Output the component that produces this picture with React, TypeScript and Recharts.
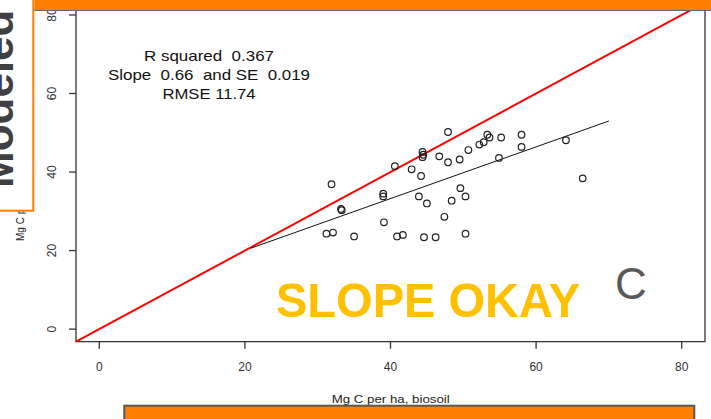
import React from "react";
import {
  ScatterChart,
  Scatter,
  XAxis,
  YAxis,
  ReferenceLine,
  ReferenceArea,
} from "recharts";

// biosoil (x) vs modelled (y), Mg C per ha
const biosoil = [
  31.9, 31.2, 32.1, 33.2, 33.3, 35.0, 39.0, 39.0, 39.1, 40.6,
  40.9, 41.7, 42.9, 43.9, 44.2, 44.4, 44.4, 44.5, 45.0, 44.6,
  46.2, 46.7, 47.4, 47.9, 47.9, 48.4, 49.5, 49.6, 50.3, 50.3,
  50.7, 52.2, 52.8, 53.3, 53.6, 55.2, 54.9, 58.0, 58.0, 64.1,
  66.4,
];
const modelled = [
  36.9, 24.3, 24.6, 30.6, 30.3, 23.6, 34.5, 33.8, 27.2, 41.5,
  23.6, 24.0, 40.7, 33.8, 39.0, 45.1, 43.8, 44.4, 32.0, 23.4,
  23.4, 44.0, 28.6, 50.2, 42.5, 32.7, 43.2, 35.9, 33.8, 24.3,
  45.6, 47.0, 47.6, 49.5, 48.8, 48.8, 43.6, 49.5, 46.4, 48.1,
  38.4,
];

const fitX = [20.8, 70.0];
const fitY = [20.6, 53.0];

const axisRange = [-3.2, 83.2];
const axisTicks = [0, 20, 40, 60, 80];

const statLines = ["R squared  0.367", "Slope  0.66  and SE  0.019", "RMSE 11.74"];

const points = biosoil.map((x, i) => ({ x, y: modelled[i] }));
const fitLine = fitX.map((x, i) => ({ x, y: fitY[i] }));

const FONT = "'Liberation Sans', Arial, sans-serif";
const ORANGE = "#FF8000";

// measured widths of the stats block lines
const statWidths = [130, 202, 93];

const OpenCircle = (props: any) => (
  <circle cx={props.cx} cy={props.cy} r={3.3} fill="none" stroke="#222" strokeWidth={1.2} />
);

const YTick = (props: any) => (
  <text
    x={52}
    y={props.y}
    transform={`rotate(-90, 52, ${props.y})`}
    textAnchor="middle"
    dominantBaseline="central"
    fontSize={12}
    fontFamily={FONT}
    fill="#333"
  >
    {props.payload.value}
  </text>
);

const XTick = (props: any) => (
  <text x={props.x} y={371} textAnchor="middle" fontSize={12} fontFamily={FONT} fill="#333">
    {props.payload.value}
  </text>
);

export default function App() {
  return (
    <div style={{ position: "absolute", left: 0, top: 0, width: 711, height: 419, overflow: "hidden", background: "#fff" }}>
      <ScatterChart width={711} height={419} margin={{ top: 2.4, right: 6, bottom: 0, left: 0 }}>
        <XAxis
          dataKey="x"
          type="number"
          domain={axisRange}
          ticks={axisTicks}
          allowDataOverflow
          axisLine={false}
          tickSize={7}
          tickLine={{ stroke: "#333", strokeWidth: 1.3 }}
          tick={<XTick />}
          height={77.3}
        />
        <YAxis
          dataKey="y"
          type="number"
          domain={axisRange}
          ticks={axisTicks}
          allowDataOverflow
          axisLine={false}
          tickSize={7}
          tickLine={{ stroke: "#333", strokeWidth: 1.3 }}
          tick={<YTick />}
          width={76}
        />
        <ReferenceArea
          x1={axisRange[0]}
          x2={axisRange[1]}
          y1={axisRange[0]}
          y2={axisRange[1]}
          fill="none"
          stroke="#333"
          strokeWidth={1.3}
          ifOverflow="visible"
        />
        <ReferenceLine
          segment={[
            { x: axisRange[0], y: axisRange[0] },
            { x: axisRange[1], y: axisRange[1] },
          ]}
          stroke="#ff0000"
          strokeWidth={2}
          ifOverflow="visible"
        />
        <Scatter
          data={fitLine}
          line={{ stroke: "#111", strokeWidth: 1 }}
          shape={() => <g />}
          isAnimationActive={false}
        />
        <Scatter data={points} shape={<OpenCircle />} isAnimationActive={false} />
      </ScatterChart>

      <svg
        width={711}
        height={419}
        style={{ position: "absolute", left: 0, top: 0, pointerEvents: "none" }}
        fontFamily={FONT}
      >
        {statLines.map((s, i) => (
          <text
            key={s}
            x={209}
            y={60.7 + i * 19.3}
            textAnchor="middle"
            fontSize={15}
            fill="#111"
            textLength={statWidths[i]}
            lengthAdjust="spacingAndGlyphs"
            style={{ whiteSpace: "pre" }}
          >
            {s}
          </text>
        ))}
        <text
          x={331.7}
          y={402.5}
          fontSize={11}
          fill="#222"
          textLength={118}
          lengthAdjust="spacingAndGlyphs"
        >
          Mg C per ha, biosoil
        </text>
        <text x={276} y={316.7} fontSize={49} fontWeight="bold" fill="#FFC000" textLength={304} lengthAdjust="spacingAndGlyphs">
          SLOPE OKAY
        </text>
        <text x={615} y={299} fontSize={44} fill="#595959">
          C
        </text>

        {/* y axis label, mostly hidden under the box */}
        <text x={24} y={241} transform="rotate(-90, 24, 241)" fontSize={10} fill="#222">
          Mg C per ha, modelled
        </text>
        <rect x={-3} y={-3} width={36.3} height={213.7} fill="#fff" stroke={ORANGE} strokeWidth={2} />
        <text x={13} y={188} transform="rotate(-90, 13, 188)" fontSize={44} fontWeight="bold" fill="#404040">
          Modeled
        </text>

        <rect x={34.3} y={-2} width={680} height={12} fill={ORANGE} />
        <line x1={34.3} y1={10.5} x2={711} y2={10.5} stroke="#666" strokeWidth={1} />

        <rect x={124.3} y={405.7} width={570} height={20} fill={ORANGE} stroke="#595959" strokeWidth={2} />
      </svg>
    </div>
  );
}
